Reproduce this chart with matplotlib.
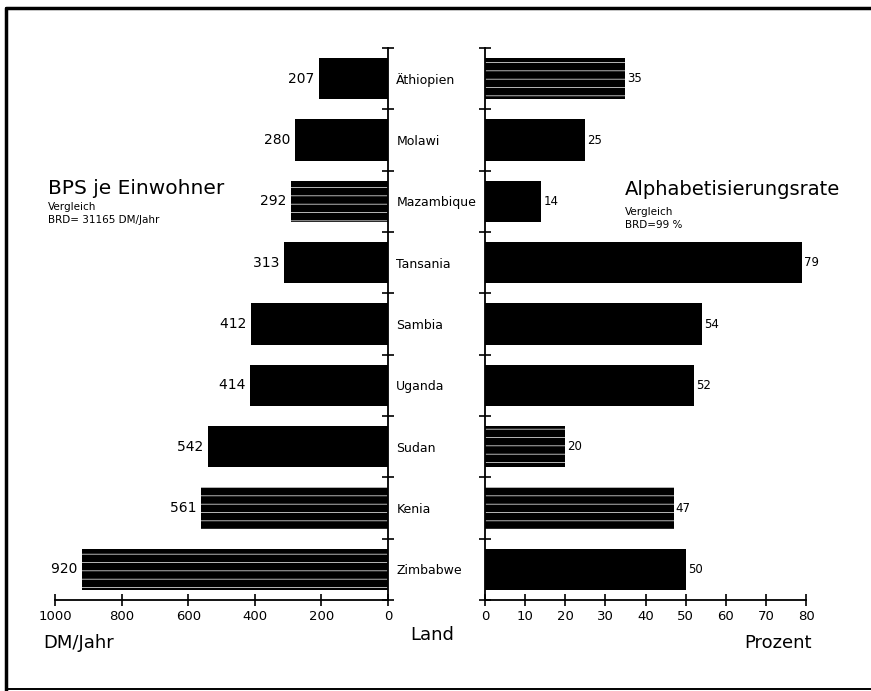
import matplotlib.pyplot as plt
from matplotlib.lines import Line2D

# data (top to bottom)
countries = ['Äthiopien', 'Molawi', 'Mazambique', 'Tansania', 'Sambia',
             'Uganda', 'Sudan', 'Kenia', 'Zimbabwe']
bps = [207, 280, 292, 313, 412, 414, 542, 561, 920]
alpha_rate = [35, 25, 14, 79, 54, 52, 20, 47, 50]
# bars that look striped in the scan
striped_left = ['Mazambique', 'Kenia', 'Zimbabwe']
striped_right = ['Äthiopien', 'Sudan', 'Kenia']

W, H = 871, 691
fig = plt.figure(figsize=(W / 100, H / 100), dpi=100)
plt.rcParams['font.family'] = ['DejaVu Sans']
plt.rcParams['hatch.linewidth'] = 0.5

bottom = 1 - 600 / H
height = 552 / H
ax_l = fig.add_axes([55 / W, bottom, 333 / W, height])
ax_r = fig.add_axes([485 / W, bottom, 321 / W, height])

ypos = list(range(len(countries)))
bounds = [i - 0.5 for i in range(len(countries) + 1)]


def style_axis(ax, side):
    ax.set_ylim(len(countries) - 0.5, -0.5)
    for s in ['top', 'left', 'right']:
        ax.spines[s].set_visible(False)
    ax.spines[side].set_visible(True)
    ax.spines[side].set_linewidth(1.3)
    ax.spines['bottom'].set_linewidth(1.3)
    ax.set_yticks(bounds, minor=True)
    ax.set_yticks(ypos)
    ax.tick_params(axis='y', which='major', length=0)
    ax.tick_params(axis='y', which='minor', direction='inout', length=8, width=1.2)
    ax.tick_params(axis='x', direction='inout', length=9, width=1.2,
                   labelsize=9.5, pad=3)
    if side == 'right':
        ax.yaxis.tick_right()
    else:
        ax.yaxis.tick_left()


# left panel: BPS
style_axis(ax_l, 'right')
ax_l.set_xlim(1000, 0)
ax_l.set_xticks([1000, 800, 600, 400, 200, 0])
for y, v, c in zip(ypos, bps, countries):
    if c in striped_left:
        ax_l.barh(y, v, height=0.67, color='black', edgecolor='white',
                  linewidth=0, hatch='--')
    else:
        ax_l.barh(y, v, height=0.67, color='black')
    ax_l.text(v, y, str(v) + ' ', ha='right', va='center', fontsize=10)
ax_l.set_yticklabels(countries, fontsize=9)
ax_l.tick_params(axis='y', which='major', pad=6)

# right panel: Alphabetisierungsrate
style_axis(ax_r, 'left')
ax_r.set_xlim(0, 80)
ax_r.set_xticks(range(0, 81, 10))
ax_r.set_yticklabels([])
for y, v, c in zip(ypos, alpha_rate, countries):
    if c in striped_right:
        ax_r.barh(y, v, height=0.67, color='black', edgecolor='white',
                  linewidth=0, hatch='--')
    else:
        ax_r.barh(y, v, height=0.67, color='black')
    ax_r.text(v + 0.5, y, str(v), ha='left', va='center', fontsize=8.5)

# titles and notes
fig.text(48 / W, 1 - 194 / H, 'BPS je Einwohner', fontsize=14.5, va='baseline')
fig.text(48 / W, 1 - 210 / H, 'Vergleich', fontsize=7.5, va='baseline')
fig.text(48 / W, 1 - 223 / H, 'BRD= 31165 DM/Jahr', fontsize=7.5, va='baseline')
fig.text(625 / W, 1 - 195 / H, 'Alphabetisierungsrate', fontsize=14, va='baseline')
fig.text(625 / W, 1 - 215 / H, 'Vergleich', fontsize=7.5, va='baseline')
fig.text(625 / W, 1 - 228 / H, 'BRD=99 %', fontsize=7.5, va='baseline')

# axis labels
fig.text(43 / W, 1 - 648 / H, 'DM/Jahr', fontsize=13, va='baseline')
fig.text(410 / W, 1 - 640 / H, 'Land', fontsize=13, va='baseline')
fig.text(812 / W, 1 - 648 / H, 'Prozent', fontsize=13, va='baseline', ha='right')

# frame around the whole picture (right edge runs off the scan)
x0, x1 = 6 / W, 1.0
y0, y1 = 1 - 689 / H, 1 - 8 / H
fig.add_artist(Line2D([x1, x0, x0, x1], [y0, y0, y1, y1],
                      color='black', linewidth=1.4, transform=fig.transFigure))
fig.add_artist(Line2D([x0, x0, x1], [y0, y1, y1], color='black',
                      linewidth=2.5, transform=fig.transFigure))

fig.savefig('out.png', dpi=100)
